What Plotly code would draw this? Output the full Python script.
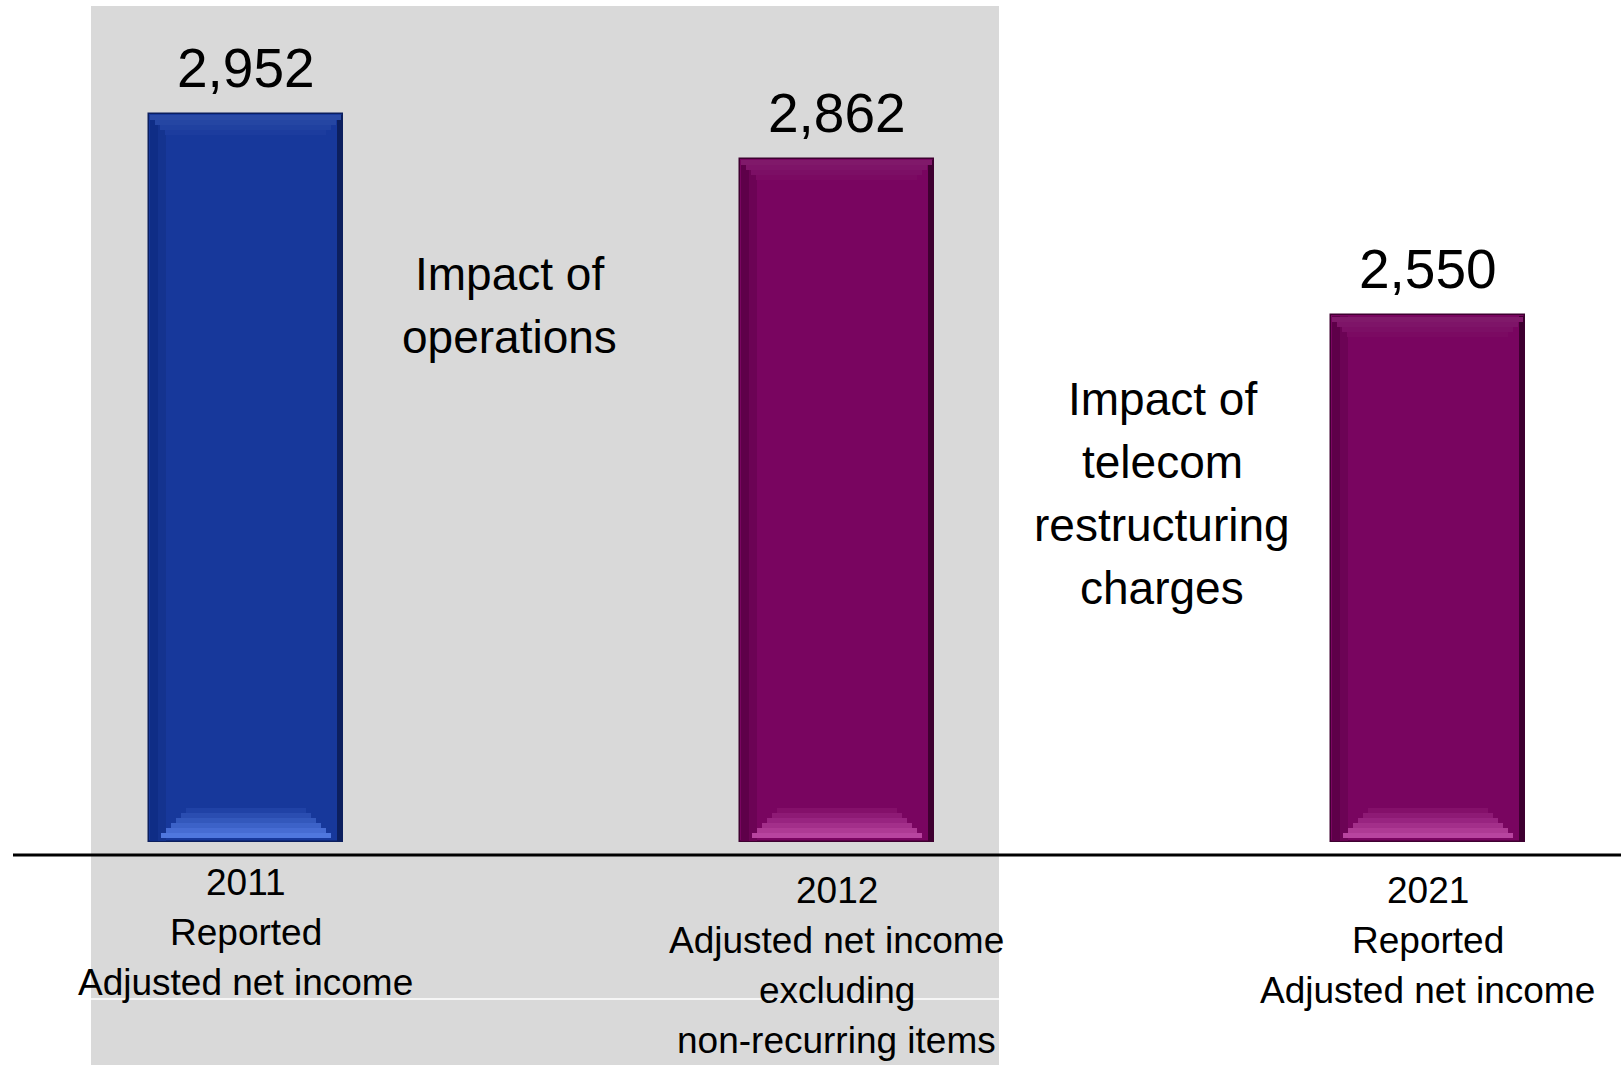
import plotly.graph_objects as go

# ---------------- data ----------------
categories = ["2011", "2012", "2021"]
label_lines = [
    ["2011", "Reported", "Adjusted net income"],
    ["2012", "Adjusted net income", "excluding", "non-recurring items"],
    ["2021", "Reported", "Adjusted net income"],
]
values = [2952, 2862, 2550]
value_labels = ["2,952", "2,862", "2,550"]
bar_palette = ["blue", "purple", "purple"]
impact_ops = ["Impact of", "operations"]
impact_telecom = ["Impact of", "telecom", "restructuring", "charges"]
AXIS_FLOOR = 1500

# ---------------- layout geometry ----------------
W_PX, H_PX = 1621, 1065
X_RANGE = [-0.4162, 2.3266]
Y_RANGE = [1055, 3179]
PX_X = W_PX / (X_RANGE[1] - X_RANGE[0])   # px per x unit
PX_Y = H_PX / (Y_RANGE[1] - Y_RANGE[0])   # px per y unit
BAR_W = 194 / PX_X

FONT = "Liberation Sans, Arial, sans-serif"
VAL_SIZE, LBL_SIZE, IMP_SIZE = 55, 37, 46

COLORS = {
    "blue": dict(main="#17389b", dark="#0c1f5e", light="#4f77de",
                 top="#2a4aa6", left="#0f2d86", left2="#14338f"),
    "purple": dict(main="#790560", dark="#3e0030", light="#b8449f",
                   top="#80196a", left="#5e0049", left2="#6c0355"),
}


def px_x(p):
    return p / W_PX


def px_y(p):
    return 1 - p / H_PX


def dy(p):
    return p / PX_Y


def dx(p):
    return p / PX_X


def mix(c1, c2, t):
    a = [int(c1[i:i + 2], 16) for i in (1, 3, 5)]
    b = [int(c2[i:i + 2], 16) for i in (1, 3, 5)]
    return "#" + "".join(f"{round(a[k] + (b[k] - a[k]) * t):02x}" for k in range(3))


xs = list(range(len(categories)))
pal = [COLORS[p] for p in bar_palette]
heights = [v - AXIS_FLOOR for v in values]

fig = go.Figure()

# main bars
fig.add_trace(go.Bar(
    x=xs, y=heights, base=[AXIS_FLOOR] * len(xs), width=BAR_W,
    marker=dict(color=[p["main"] for p in pal],
                line=dict(color=[p["dark"] for p in pal], width=1.5)),
    hoverinfo="skip", showlegend=False,
))

# left shading strips
for off, key in [(0, "left"), (8, "left2")]:
    fig.add_trace(go.Bar(
        x=[x - BAR_W / 2 + dx(1.5 + off + 4) for x in xs],
        y=[h - dy(2) for h in heights], base=[AXIS_FLOOR + dy(1)] * len(xs),
        width=dx(8), marker=dict(color=[p[key] for p in pal], line=dict(width=0)),
        hoverinfo="skip", showlegend=False,
    ))
# right dark edge
fig.add_trace(go.Bar(
    x=[x + BAR_W / 2 - dx(3) for x in xs],
    y=[h - dy(2) for h in heights], base=[AXIS_FLOOR + dy(1)] * len(xs),
    width=dx(5), marker=dict(color=[p["dark"] for p in pal], line=dict(width=0)),
    hoverinfo="skip", showlegend=False,
))

# top bevel (trapezoid built from strips)
N_TOP, STRIP_T = 4, 5
for k in range(N_TOP):
    fig.add_trace(go.Bar(
        x=xs, y=[dy(STRIP_T)] * len(xs),
        base=[v - dy(1.5 + (k + 1) * STRIP_T) for v in values],
        width=BAR_W - dx(3 + 2 * STRIP_T * k),
        marker=dict(color=[mix(p["top"], p["main"], k / N_TOP) for p in pal], line=dict(width=0)),
        hoverinfo="skip", showlegend=False,
    ))

# bottom bevel (trapezoid built from strips)
N_BOT, STRIP_B = 6, 5
for k in range(N_BOT):
    fig.add_trace(go.Bar(
        x=xs, y=[dy(STRIP_B)] * len(xs),
        base=[AXIS_FLOOR + dy(4 + k * STRIP_B)] * len(xs),
        width=BAR_W - dx(24 + 2 * STRIP_B * k),
        marker=dict(color=[mix(p["light"], p["main"], k / N_BOT) for p in pal], line=dict(width=0)),
        hoverinfo="skip", showlegend=False,
    ))

annotations = []
# value labels above bars
for x, v, t in zip(xs, values, value_labels):
    annotations.append(dict(
        x=x, y=v, xref="x", yref="y", text=t, showarrow=False,
        xanchor="center", yanchor="middle", yshift=27 + 0.3465 * VAL_SIZE,
        font=dict(family=FONT, size=VAL_SIZE, color="#000000"),
    ))

# category labels below axis
first_baselines = [895, 903, 903]
LINE_GAP = 50
for x, lines, b0 in zip(xs, label_lines, first_baselines):
    for j, line in enumerate(lines):
        base_px = b0 + j * LINE_GAP
        annotations.append(dict(
            x=x, y=px_y(base_px - 0.3465 * LBL_SIZE), xref="x", yref="paper", text=line,
            showarrow=False, xanchor="center", yanchor="middle",
            font=dict(family=FONT, size=LBL_SIZE, color="#000000"),
        ))

# impact texts
for lines, cx, b0 in [(impact_ops, 509, 290), (impact_telecom, 1162, 415)]:
    for j, line in enumerate(lines):
        base_px = b0 + j * 63
        annotations.append(dict(
            x=px_x(cx), y=px_y(base_px - 0.3465 * IMP_SIZE), xref="paper", yref="paper",
            text=line, showarrow=False, xanchor="center", yanchor="middle",
            font=dict(family=FONT, size=IMP_SIZE, color="#000000"),
        ))

shapes = [
    # grey highlight panel
    dict(type="rect", xref="paper", yref="paper", x0=px_x(91), x1=px_x(999),
         y0=0, y1=px_y(6), fillcolor="#d9d9d9", line=dict(width=0), layer="below"),
    # thin white line across the panel
    dict(type="line", xref="paper", yref="paper", x0=px_x(91), x1=px_x(999),
         y0=px_y(999), y1=px_y(999), line=dict(color="#ffffff", width=1.5), layer="below"),
    # baseline axis line
    dict(type="line", xref="paper", yref="paper", x0=px_x(13), x1=1,
         y0=px_y(855), y1=px_y(855), line=dict(color="#000000", width=3)),
]

fig.update_layout(
    width=W_PX, height=H_PX,
    margin=dict(l=0, r=0, t=0, b=0),
    paper_bgcolor="#ffffff", plot_bgcolor="rgba(0,0,0,0)",
    barmode="overlay", bargap=0,
    xaxis=dict(range=X_RANGE, visible=False, fixedrange=True),
    yaxis=dict(range=Y_RANGE, visible=False, fixedrange=True),
    annotations=annotations, shapes=shapes,
    showlegend=False,
)

fig.write_html("out.html", config={"displayModeBar": False})
